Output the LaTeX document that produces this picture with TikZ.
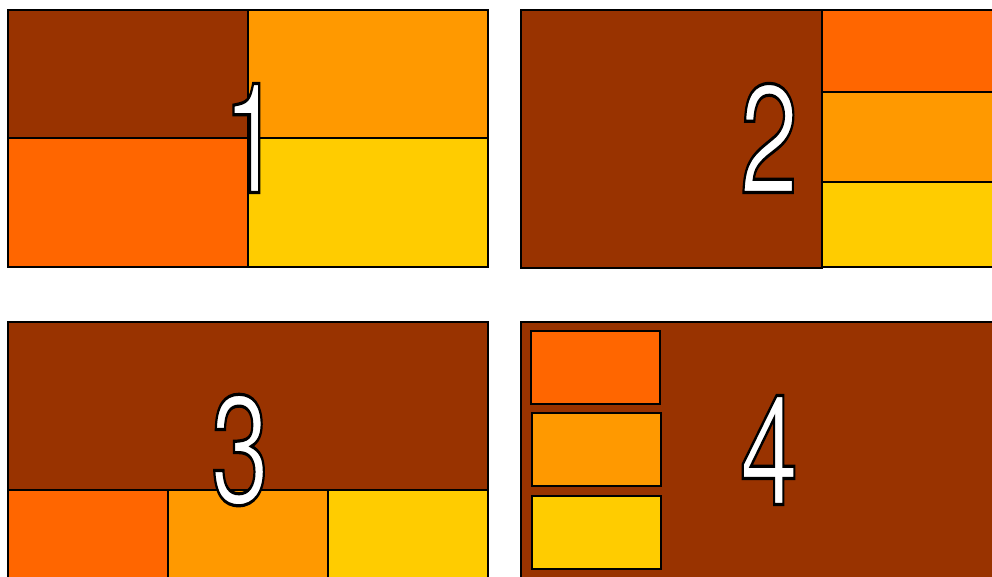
\documentclass[tikz,border=0pt]{standalone}
\usepackage{fontspec}
\setmainfont{TeX Gyre Heros}
\definecolor{cbrown}{HTML}{993300}
\definecolor{corange}{HTML}{FF6600}
\definecolor{camber}{HTML}{FF9900}
\definecolor{cyellow}{HTML}{FFCC00}
\newcommand{\outlined}[1]{\textcolor{white}{\special{pdf:literal direct 2 Tr 3.2 w 0 0 0 RG}#1\special{pdf:literal direct 0 Tr}}}
\tikzset{
  cell/.style={draw=black, line width=1.6pt},
  digit/.style={inner sep=0pt, font=\fontsize{154}{154}\selectfont, xscale=0.68}
}
\begin{document}
\begin{tikzpicture}[x=1pt, y=-1pt]
\useasboundingbox (0,0) rectangle (992,576);
\fill[white] (0,0) rectangle (992,576);
% panel 1
\draw[cell, fill=cbrown] (8,10) rectangle (248,138);
\draw[cell, fill=camber] (248,10) rectangle (488,138);
\draw[cell, fill=corange] (8,138) rectangle (248,267);
\draw[cell, fill=cyellow] (248,138) rectangle (488,267);
\node[digit] (d1) at (252,138) {\outlined{1}};
% panel 2
\draw[cell, fill=cbrown] (521,10) rectangle (822,268);
\draw[cell, fill=corange] (822,10) rectangle (1001,92);
\draw[cell, fill=camber] (822,92) rectangle (1001,182);
\draw[cell, fill=cyellow] (822,182) rectangle (1001,267);
\node[digit] (d2) at (769,138) {\outlined{2}};
% panel 3
\draw[cell, fill=cbrown] (8,322) rectangle (488,490);
\draw[cell, fill=corange] (8,490) rectangle (168,580);
\draw[cell, fill=camber] (168,490) rectangle (328,580);
\draw[cell, fill=cyellow] (328,490) rectangle (488,580);
\node[digit] (d3) at (240,450) {\outlined{3}};
% panel 4
\draw[cell, fill=cbrown] (521,322) rectangle (1001,580);
\draw[cell, fill=corange] (531,331) rectangle (660,404);
\draw[cell, fill=camber] (532,413) rectangle (661,486);
\draw[cell, fill=cyellow] (532,496) rectangle (661,569);
\node[digit] (d4) at (769,450) {\outlined{4}};
\end{tikzpicture}
\end{document}
